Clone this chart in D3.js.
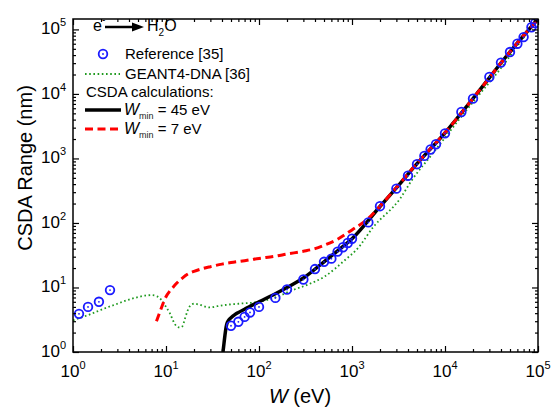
<!DOCTYPE html>
<html><head><meta charset="utf-8">
<script src="https://cdn.jsdelivr.net/npm/d3@7"></script>
<style>body{margin:0;background:#fff}svg{display:block;font-family:"Liberation Sans",Arial,sans-serif}</style>
</head><body><svg id="c" width="552" height="409"></svg>
<script>
// ---- data ----
const xTicks=[1,10,100,1000,10000,100000];
const xTickExp=["0","1","2","3","4","5"];
const yTicks=[1,10,100,1000,10000,100000];
const yTickExp=["0","1","2","3","4","5"];

const refW=[1.16,1.45,1.9,2.5,50,60,70,80,100,150,200,300,400,500,600,700,800,900,1000,1500,2000,3000,4000,5000,6000,7000,8000,10000,15000,20000,30000,40000,50000,60000,70000,85000,93000];
const refR=[3.9,5.0,6.0,9.1,2.55,2.94,3.5,4.1,5.0,6.9,9.3,13.3,19.3,25,28,36,42,49,57,102,182,340,540,815,1095,1375,1660,2450,5250,8450,18300,30600,44600,60000,76000,108000,125000];

const geW=[1,1.5,2,3,4,5,6,7,8,9,10,11,12,13,14,15,16,17,18,20,23,27,30,35,45,60,100,150,230,330,500,875,1110,1700,3300,4400,7400,17000,39000,80000,100000];
const geR=[3.1,3.8,4.5,5.6,6.5,7.1,7.5,7.6,7.3,6.3,5.0,4.0,3.0,2.5,2.4,2.5,3.3,4.3,5.1,5.6,5.4,5.0,4.9,5.1,5.4,5.6,6.0,7.0,9.1,11,14.6,28,38,87,240,460,1200,5600,24000,95000,140000];

const w45W=[41,42,43,44,45,47,50,55,60,70,80,100,150,200,300,500,700,1000,2000,3000,5000,10000,20000,50000,100000];
const w45R=[1.0,1.35,1.8,2.3,2.7,3.1,3.4,3.8,4.1,4.6,5.1,6.0,8.0,10,14,25,37,57,180,350,830,2500,8500,45000,145000];

const w7W=[7.9,8.5,9,10,11,12,13,15,17,20,25,30,40,50,70,100,150,200,300,400,500,700,1000,1500,2000,3000,5000,10000,20000,50000,100000];
const w7R=[3.0,4.0,5.0,7.2,8.8,10.2,11.6,14,16,17.8,19.7,21,23,24.3,26,28.2,30.5,33,36.5,40,45,56,78,118,182,355,840,2500,8500,45000,145000];

// ---- layout ----
const L=73,R=538,T=19,B=352;
const svg=d3.select("#c");
const x=d3.scaleLog().domain([1,1e5]).range([L,R]);
const y=d3.scaleLog().domain([1,1.45e5]).range([B,T]);

function minors(lo,hi){const a=[];for(let p=1;p<=1e5;p*=10)for(let k=2;k<=9;k++){const v=k*p;if(v>lo&&v<hi)a.push(v);}return a;}
const xMin=minors(1,1e5), yMin=minors(1,1.45e5);

// clip
svg.append("clipPath").attr("id","clip").append("rect").attr("x",L).attr("y",T).attr("width",R-L).attr("height",B-T);

const g=svg.append("g").attr("clip-path","url(#clip)");
const line=(W,Rr)=>d3.line().x(d=>x(d[0])).y(d=>y(d[1])).curve(d3.curveMonotoneX)(W.map((w,i)=>[w,Rr[i]]));

g.append("path").attr("d",line(geW,geR)).attr("fill","none").attr("stroke","#1f9a1f").attr("stroke-width",1.8).attr("stroke-dasharray","1.6,2.6");
g.append("path").attr("d",line(w45W,w45R)).attr("fill","none").attr("stroke","#000").attr("stroke-width",3.5);
g.append("path").attr("d",line(w7W,w7R)).attr("fill","none").attr("stroke","#f00").attr("stroke-width",3).attr("stroke-dasharray","8,4.5");

const pts=g.selectAll("g.pt").data(refW.map((w,i)=>[w,refR[i]])).join("g").attr("transform",d=>`translate(${x(d[0])},${y(d[1])})`);
pts.append("circle").attr("r",4.3).attr("fill","none").attr("stroke","#1a1aff").attr("stroke-width",1.8);
pts.append("circle").attr("r",0.9).attr("fill","#1a1aff");

// axes (ticks inward)
function ax(gen,vals,size,tr){svg.append("g").attr("transform",tr).call(gen.tickValues(vals).tickSize(size).tickFormat("")).call(s=>{s.select(".domain").remove();s.selectAll("line").attr("stroke","#000").attr("stroke-width",1.2);});}
ax(d3.axisBottom(x),xTicks,-6,`translate(0,${B})`);
ax(d3.axisBottom(x),xMin,-3,`translate(0,${B})`);
ax(d3.axisTop(x),xTicks,-6,`translate(0,${T})`);
ax(d3.axisTop(x),xMin,-3,`translate(0,${T})`);
ax(d3.axisLeft(y),yTicks,-6,`translate(${L},0)`);
ax(d3.axisLeft(y),yMin,-3,`translate(${L},0)`);
ax(d3.axisRight(y),yTicks,-6,`translate(${R},0)`);
ax(d3.axisRight(y),yMin,-3,`translate(${R},0)`);
svg.append("rect").attr("x",L).attr("y",T).attr("width",R-L).attr("height",B-T).attr("fill","none").attr("stroke","#000").attr("stroke-width",1.5);

// tick labels
xTicks.forEach((v,i)=>{
  const t=svg.append("text").attr("x",x(v)).attr("y",377).attr("text-anchor","middle").attr("font-size",17);
  t.append("tspan").text("10");
  t.append("tspan").attr("dy",-8).attr("font-size",11).text(xTickExp[i]);
});
yTicks.forEach((v,i)=>{
  const t=svg.append("text").attr("x",66).attr("y",y(v)+5).attr("text-anchor","end").attr("font-size",17);
  t.append("tspan").text("10");
  t.append("tspan").attr("dy",-8).attr("font-size",11).text(yTickExp[i]);
});

// axis titles
svg.append("text").attr("transform","translate(32,168) rotate(-90)").attr("text-anchor","middle").attr("font-size",20).text("CSDA Range (nm)");
const xt=svg.append("text").attr("x",300).attr("y",403).attr("text-anchor","middle").attr("font-size",20);
xt.append("tspan").attr("font-style","italic").text("W");
xt.append("tspan").text(" (eV)");

// header e- -> H2O
const h=svg.append("text").attr("x",93).attr("y",31).attr("font-size",16);
h.append("tspan").text("e");
h.append("tspan").attr("dy",-8).attr("font-size",10).text("-");
svg.append("line").attr("x1",105).attr("x2",134).attr("y1",27).attr("y2",27).attr("stroke","#000").attr("stroke-width",2.5);
svg.append("path").attr("d","M132,22.5 L144,27 L132,31.5 Z").attr("fill","#000");
const h2=svg.append("text").attr("x",147).attr("y",31).attr("font-size",16);
h2.append("tspan").text("H");
h2.append("tspan").attr("dy",5).attr("font-size",10).text("2");
h2.append("tspan").attr("dy",-5).text("O");

// legend
const lg=svg.append("g").attr("font-size",15);
const c0=lg.append("g").attr("transform","translate(103,54)");
c0.append("circle").attr("r",4.3).attr("fill","none").attr("stroke","#1a1aff").attr("stroke-width",1.8);
c0.append("circle").attr("r",0.9).attr("fill","#1a1aff");
lg.append("text").attr("x",125).attr("y",59).text("Reference [35]");
lg.append("line").attr("x1",85).attr("x2",120).attr("y1",74).attr("y2",74).attr("stroke","#1f9a1f").attr("stroke-width",1.8).attr("stroke-dasharray","1.6,2.6");
lg.append("text").attr("x",125).attr("y",79).text("GEANT4-DNA [36]");
lg.append("text").attr("x",86).attr("y",97).text("CSDA calculations:");
lg.append("line").attr("x1",85).attr("x2",121).attr("y1",110).attr("y2",110).attr("stroke","#000").attr("stroke-width",3.5);
lg.append("line").attr("x1",85).attr("x2",121).attr("y1",129).attr("y2",129).attr("stroke","#f00").attr("stroke-width",3).attr("stroke-dasharray","8,4.5");
[[115,"45"],[134,"7"]].forEach(([yy,val])=>{
  const t=lg.append("text").attr("x",124).attr("y",yy);
  t.append("tspan").attr("font-style","italic").attr("font-size",16).text("W");
  t.append("tspan").attr("dy",4).attr("font-size",9).attr("fill","#222").text("min");
  t.append("tspan").attr("dy",-4).text(" = "+val+" eV");
});
</script></body></html>
